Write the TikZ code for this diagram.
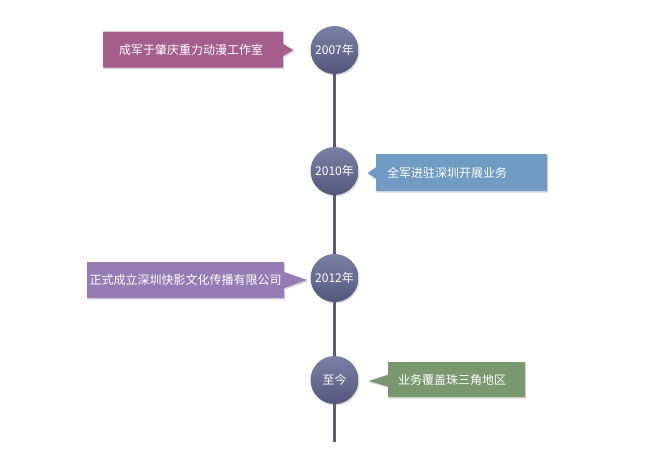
\documentclass[tikz,border=0pt]{standalone}
\usepackage{fontspec}
\setmainfont{Noto Sans CJK SC}
\usetikzlibrary{shapes.callouts, shadows}

\definecolor{yeartop}{RGB}{122,129,164}
\definecolor{yearbottom}{RGB}{84,87,124}
\definecolor{axis}{RGB}{90,90,124}
\definecolor{mauve}{RGB}{165,94,140}
\definecolor{steel}{RGB}{111,155,196}
\definecolor{lavender}{RGB}{150,124,180}
\definecolor{sage}{RGB}{122,152,112}

\begin{document}
\begin{tikzpicture}[x=1pt, y=-1pt,
	year/.style={circle, minimum size=48pt, inner sep=0pt, top color=yeartop, bottom color=yearbottom,
		text=white, font=\fontsize{12}{14}\selectfont,
		drop shadow={opacity=.3, shadow xshift=1pt, shadow yshift=-1.5pt}},
	event/.style={rectangle callout, anchor=west, minimum height=36pt, inner ysep=0pt, align=left,
		text=white, font=\fontsize{12}{14}\selectfont, callout pointer width=12pt,
		drop shadow={opacity=.3, shadow xshift=1pt, shadow yshift=-1.5pt}},
	timeline/.style={draw=axis, line width=3pt}]

	\useasboundingbox (0,0) rectangle (670,464);

	\node[year] (y2007) at (334.5,50) {2007年};
	\node[year] (y2010) at (334.5,171) {2010年};
	\node[year] (y2012) at (334.5,278) {2012年};
	\node[year] (ynow) at (334.5,380) {至今};
	\coordinate (bottom) at (334.5,442);

	\draw[timeline] (y2007) -- (y2010) -- (y2012) -- (ynow) -- (bottom);

	\node[event, fill=mauve, inner xsep=16pt, text width=148pt,
		callout absolute pointer={([xshift=-17pt]y2007.west)}] (e2007) at (103,49.5) {成军于肇庆重力动漫工作室};
	\node[event, fill=steel, inner xsep=11pt, text width=149pt, minimum height=37pt,
		callout absolute pointer={([xshift=9pt, yshift=-2pt]y2010.east)}] (e2010) at (376,172.5) {全军进驻深圳开展业务};
	\node[event, fill=lavender, inner xsep=2.5pt, text width=192pt, callout pointer width=16pt,
		callout absolute pointer={([xshift=-3pt, yshift=-2pt]y2012.west)}] (e2012) at (87,280) {正式成立深圳快影文化传播有限公司};
	\node[event, fill=sage, inner xsep=10pt, text width=117pt, minimum height=35pt,
		callout absolute pointer={([xshift=10pt, yshift=-1pt]ynow.east)}] (enow) at (388,379.5) {业务覆盖珠三角地区};

\end{tikzpicture}
\end{document}
